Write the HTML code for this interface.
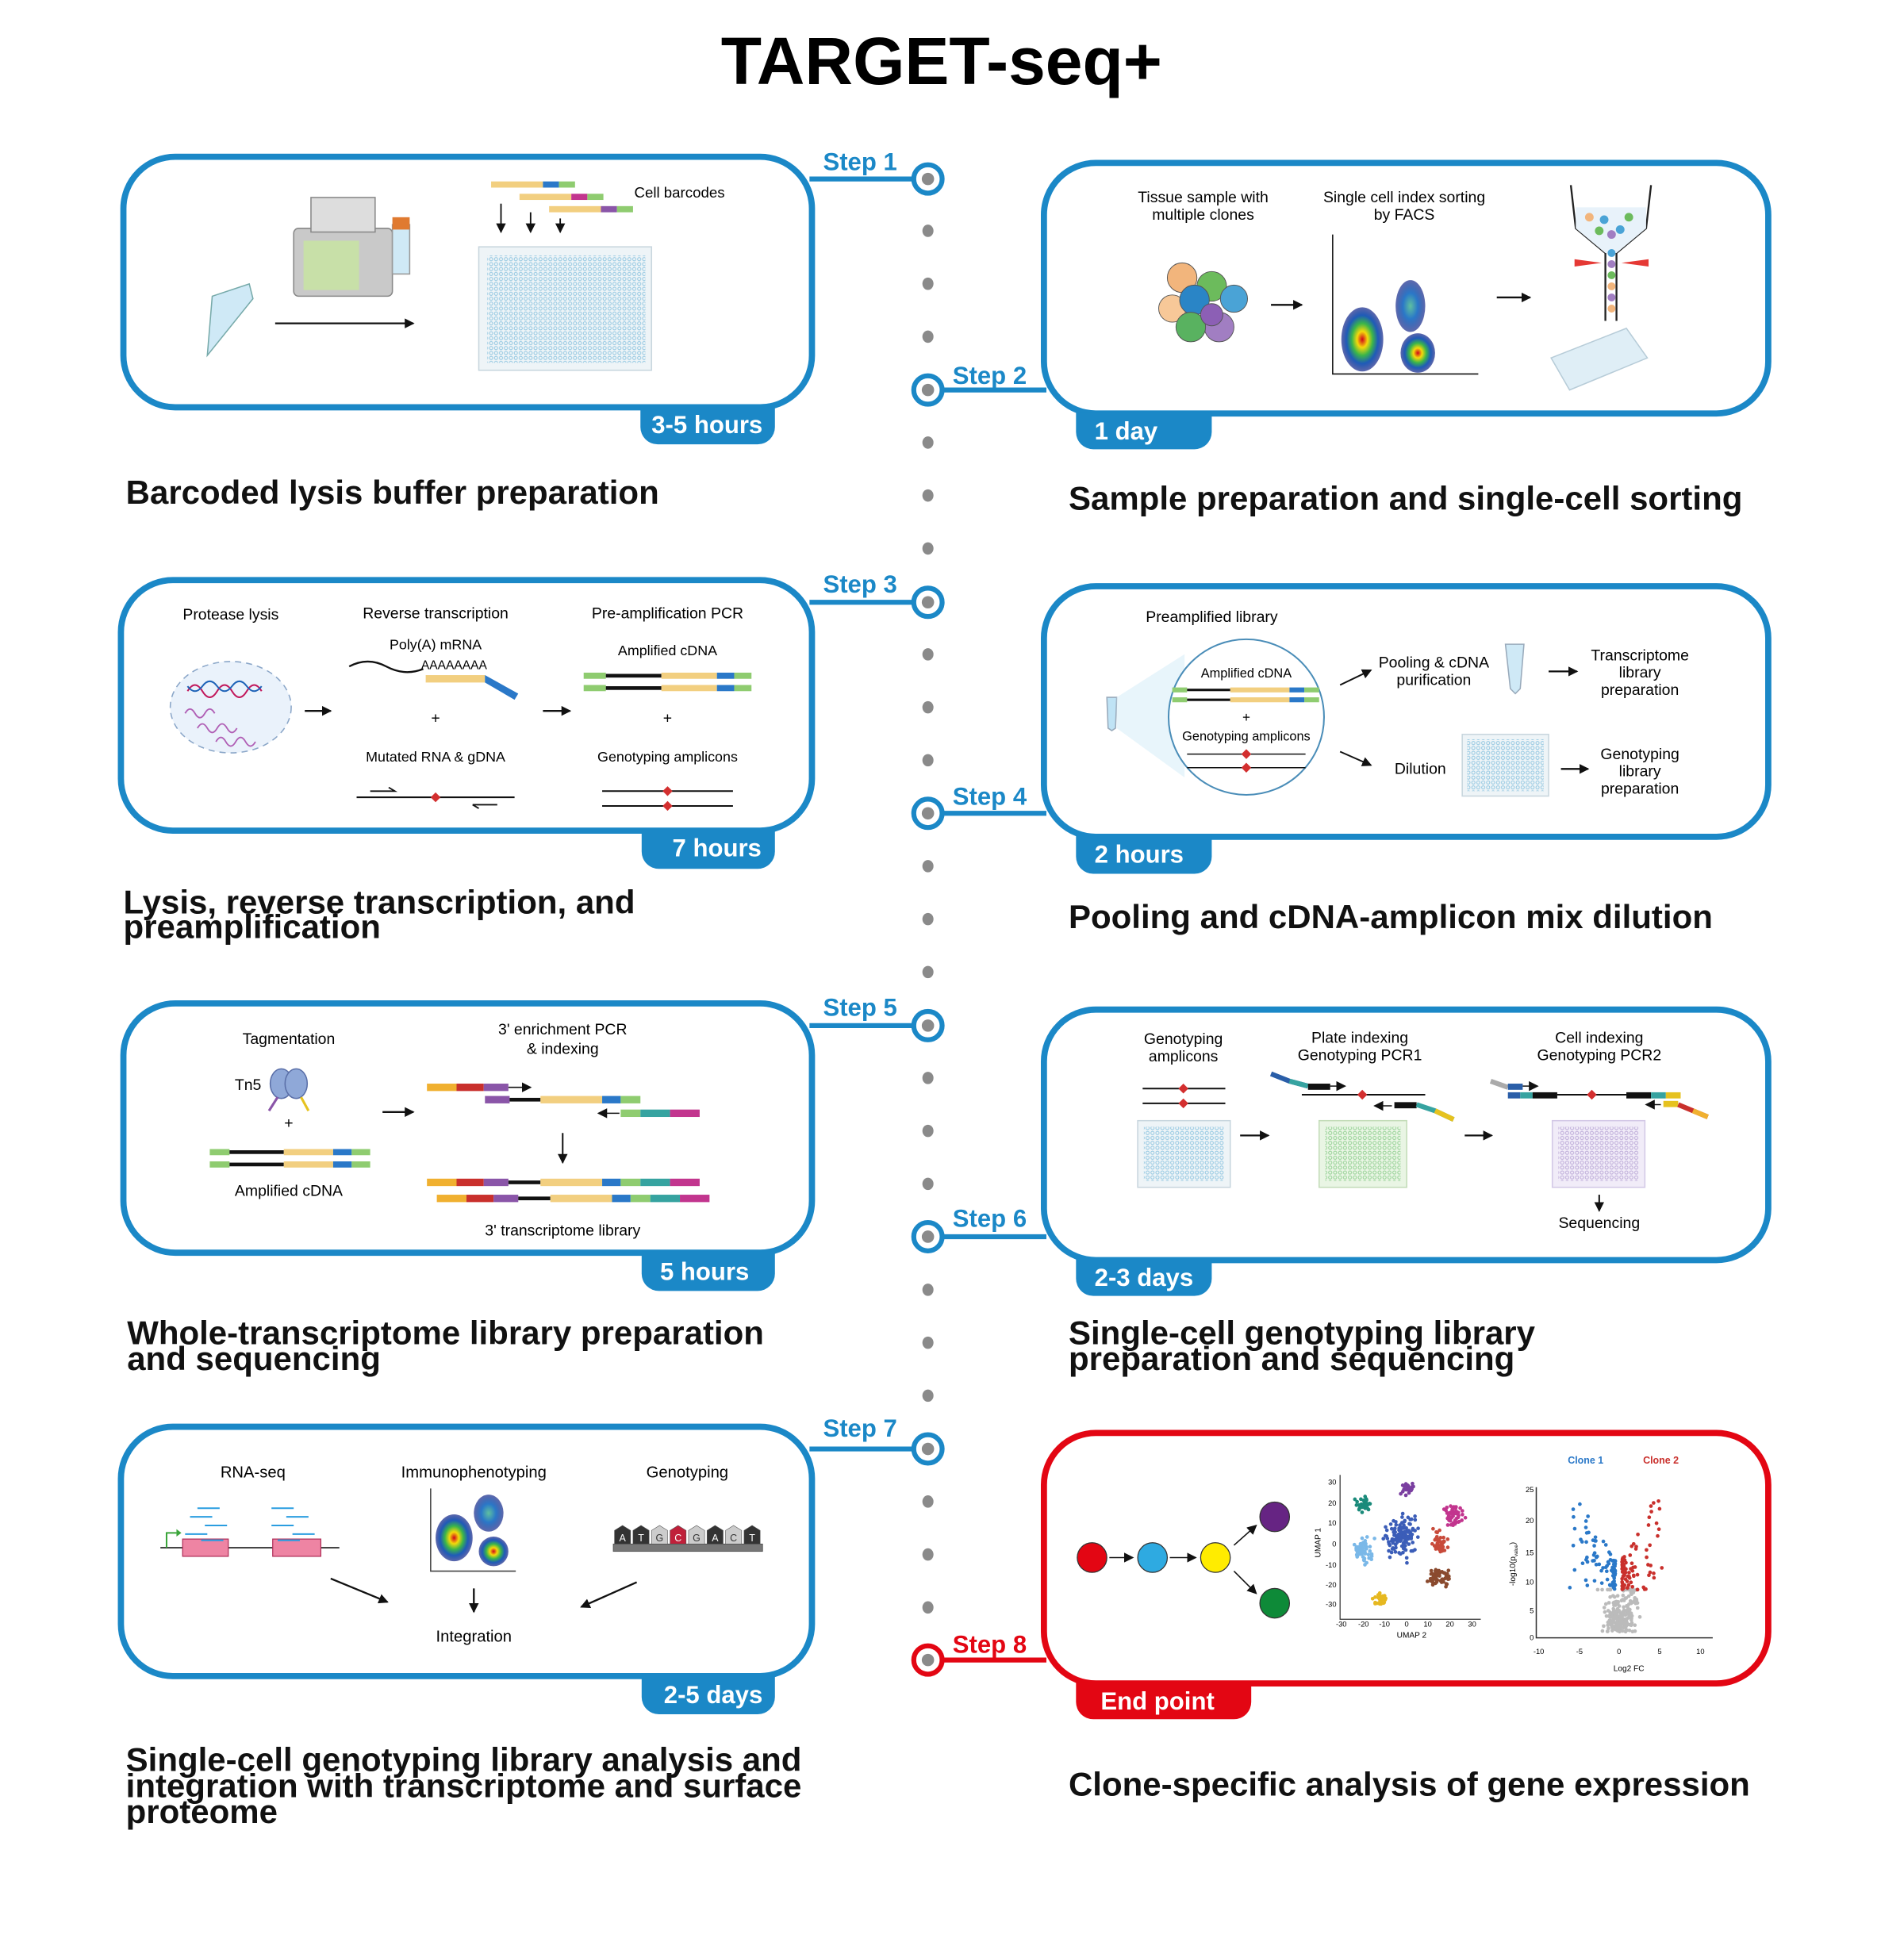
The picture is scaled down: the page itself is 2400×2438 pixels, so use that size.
<!DOCTYPE html>
<html><head><meta charset="utf-8"><style>
html,body{margin:0;padding:0;background:#fff;}
svg{display:block;}
text{font-family:"Liberation Sans",sans-serif;}
</style></head><body>
<svg id="s" width="2400" height="2438" viewBox="0 0 1543 1567" preserveAspectRatio="none" xmlns="http://www.w3.org/2000/svg">
<defs>
<marker id="ah" markerWidth="8" markerHeight="8" refX="7" refY="4" orient="auto" markerUnits="userSpaceOnUse"><path d="M0,0 L8,4 L0,8 z" fill="#111"/></marker>
<pattern id="wb" width="4" height="4" patternUnits="userSpaceOnUse"><circle cx="2" cy="2" r="1.3" fill="none" stroke="#8cc4e0" stroke-width="0.6"/></pattern>
<pattern id="wg" width="4" height="4" patternUnits="userSpaceOnUse"><circle cx="2" cy="2" r="1.3" fill="none" stroke="#8fcf8f" stroke-width="0.6"/></pattern>
<pattern id="wp" width="4" height="4" patternUnits="userSpaceOnUse"><circle cx="2" cy="2" r="1.3" fill="none" stroke="#b9a6d6" stroke-width="0.6"/></pattern>
<radialGradient id="fc"><stop offset="0" stop-color="#d0021b"/><stop offset="0.25" stop-color="#f5d90a"/><stop offset="0.5" stop-color="#3ab54a"/><stop offset="0.75" stop-color="#1e5bb8"/><stop offset="1" stop-color="#1a2a8a" stop-opacity="0.7"/></radialGradient>
<radialGradient id="fc2"><stop offset="0" stop-color="#5fc0a0"/><stop offset="0.5" stop-color="#2a78c8"/><stop offset="1" stop-color="#1a2a8a" stop-opacity="0.7"/></radialGradient>
</defs>

<text x="763" y="68" text-anchor="middle" font-size="54" font-weight="bold">TARGET-seq+</text>

<g id="dots" fill="#8a8a8a"></g>

<g fill="none" stroke="#1b88c7" stroke-width="5">
<rect x="100" y="127" width="558" height="203" rx="42"/>
<rect x="846" y="132" width="587" height="203" rx="42"/>
<rect x="98" y="470" width="560" height="203" rx="42"/>
<rect x="846" y="475" width="587" height="203" rx="42"/>
<rect x="100" y="813" width="558" height="202" rx="42"/>
<rect x="846" y="818" width="587" height="203" rx="42"/>
<rect x="98" y="1156" width="560" height="202" rx="42"/>
</g>
<rect x="846" y="1161" width="587" height="203" rx="42" fill="none" stroke="#e30613" stroke-width="5"/>

<g stroke="#1b88c7" stroke-width="4">
<line x1="656" y1="145" x2="742" y2="145"/>
<line x1="762" y1="316" x2="848" y2="316"/>
<line x1="656" y1="488" x2="742" y2="488"/>
<line x1="762" y1="659" x2="848" y2="659"/>
<line x1="656" y1="831" x2="742" y2="831"/>
<line x1="762" y1="1002" x2="848" y2="1002"/>
<line x1="656" y1="1174" x2="742" y2="1174"/>
</g>
<line x1="762" y1="1345" x2="848" y2="1345" stroke="#e30613" stroke-width="4"/>
<g id="stepc"></g>
<g font-size="20" font-weight="bold" fill="#1b88c7">
<text x="667" y="138">Step 1</text>
<text x="772" y="311">Step 2</text>
<text x="667" y="480">Step 3</text>
<text x="772" y="652">Step 4</text>
<text x="667" y="823">Step 5</text>
<text x="772" y="994">Step 6</text>
<text x="667" y="1164">Step 7</text>
</g>
<text x="772" y="1339" font-size="20" font-weight="bold" fill="#e30613">Step 8</text>

<g fill="#1b88c7">
<path d="M519,329 H628 V346 a14,14 0 0 1 -14,14 H533 a14,14 0 0 1 -14,-14z"/>
<path d="M872,334 H982 V350 a14,14 0 0 1 -14,14 H886 a14,14 0 0 1 -14,-14z"/>
<path d="M520,672 H628 V690 a14,14 0 0 1 -14,14 H534 a14,14 0 0 1 -14,-14z"/>
<path d="M872,677 H982 V694 a14,14 0 0 1 -14,14 H886 a14,14 0 0 1 -14,-14z"/>
<path d="M520,1014 H628 V1032 a14,14 0 0 1 -14,14 H534 a14,14 0 0 1 -14,-14z"/>
<path d="M872,1020 H982 V1036 a14,14 0 0 1 -14,14 H886 a14,14 0 0 1 -14,-14z"/>
<path d="M520,1357 H628 V1375 a14,14 0 0 1 -14,14 H534 a14,14 0 0 1 -14,-14z"/>
</g>
<path d="M872,1363 H1014 V1379 a14,14 0 0 1 -14,14 H886 a14,14 0 0 1 -14,-14z" fill="#e30613"/>
<g font-size="20" font-weight="bold" fill="#fff">
<text x="573" y="351" text-anchor="middle">3-5 hours</text>
<text x="887" y="356">1 day</text>
<text x="581" y="694" text-anchor="middle">7 hours</text>
<text x="887" y="699">2 hours</text>
<text x="571" y="1037" text-anchor="middle">5 hours</text>
<text x="887" y="1042">2-3 days</text>
<text x="578" y="1380" text-anchor="middle">2-5 days</text>
<text x="892" y="1385">End point</text>
</g>

<g font-size="27" font-weight="bold" fill="#111">
<text x="102" y="408">Barcoded lysis buffer preparation</text>
<text x="866" y="413">Sample preparation and single-cell sorting</text>
<text x="100" y="740">Lysis, reverse transcription, and</text>
<text x="100" y="760">preamplification</text>
<text x="866" y="752">Pooling and cDNA-amplicon mix dilution</text>
<text x="103" y="1089">Whole-transcriptome library preparation</text>
<text x="103" y="1110">and sequencing</text>
<text x="866" y="1089">Single-cell genotyping library</text>
<text x="866" y="1110">preparation and sequencing</text>
<text x="102" y="1435">Single-cell genotyping library analysis and</text>
<text x="102" y="1456">integration with transcriptome and surface</text>
<text x="102" y="1477">proteome</text>
<text x="866" y="1455">Clone-specific analysis of gene expression</text>
</g>

<!-- STEP 1 -->
<g>
<path d="M168,288 L172,240 L202,230 L205,242 z" fill="#cfe9f6" stroke="#7aa" stroke-width="1"/>
<rect x="238" y="185" width="80" height="55" rx="4" fill="#c9c9c9" stroke="#888"/>
<rect x="246" y="195" width="45" height="40" fill="#c8e0a8"/>
<rect x="252" y="160" width="52" height="28" fill="#ddd" stroke="#888"/>
<rect x="318" y="182" width="14" height="40" fill="#cfe9f6" stroke="#999"/>
<rect x="318" y="176" width="14" height="10" fill="#e07a30"/>
<line x1="223" y1="262" x2="335" y2="262" stroke="#111" stroke-width="1.5" marker-end="url(#ah)"/>
<rect x="388" y="200" width="140" height="100" fill="#eef4f7" stroke="#c8d6de"/>
<rect x="395" y="207" width="128" height="87" fill="url(#wb)"/>
<rect x="398" y="147" width="42" height="5" fill="#f2cf80"/><rect x="440" y="147" width="13" height="5" fill="#2a78c8"/><rect x="453" y="147" width="13" height="5" fill="#8fcc70"/>
<rect x="421" y="157" width="42" height="5" fill="#f2cf80"/><rect x="463" y="157" width="13" height="5" fill="#c2358e"/><rect x="476" y="157" width="13" height="5" fill="#8fcc70"/>
<rect x="445" y="167" width="42" height="5" fill="#f2cf80"/><rect x="487" y="167" width="13" height="5" fill="#8a55a8"/><rect x="500" y="167" width="13" height="5" fill="#8fcc70"/>
<text x="514" y="160" font-size="12">Cell barcodes</text>
<g stroke="#111" stroke-width="1.2"><line x1="406" y1="165" x2="406" y2="188" marker-end="url(#ah)"/><line x1="430" y1="172" x2="430" y2="188" marker-end="url(#ah)"/><line x1="454" y1="177" x2="454" y2="188" marker-end="url(#ah)"/></g>
</g>

<!-- STEP 2 -->
<g font-size="12.5" text-anchor="middle">
<text x="975" y="164">Tissue sample with</text><text x="975" y="178">multiple clones</text>
<text x="1138" y="164">Single cell index sorting</text><text x="1138" y="178">by FACS</text>
</g>
<g stroke="#555" stroke-width="0.6">
<circle cx="958" cy="225" r="12" fill="#f2b57c"/><circle cx="950" cy="250" r="11" fill="#f7c898"/>
<circle cx="982" cy="232" r="12" fill="#6cbb5c"/><circle cx="1000" cy="242" r="11" fill="#4aa3d6"/>
<circle cx="968" cy="243" r="12" fill="#2a85c6"/><circle cx="988" cy="265" r="12" fill="#a17ec2"/>
<circle cx="965" cy="265" r="12" fill="#59b260"/><circle cx="982" cy="255" r="9" fill="#8c5fb5"/>
</g>
<line x1="1030" y1="247" x2="1055" y2="247" stroke="#111" stroke-width="1.5" marker-end="url(#ah)"/>
<polyline points="1080,190 1080,303 1198,303" fill="none" stroke="#111" stroke-width="1"/>
<ellipse cx="1104" cy="275" rx="17" ry="26" fill="url(#fc)"/>
<ellipse cx="1143" cy="248" rx="12" ry="21" fill="url(#fc2)"/>
<ellipse cx="1149" cy="286" rx="14" ry="16" fill="url(#fc)"/>
<line x1="1213" y1="241" x2="1240" y2="241" stroke="#111" stroke-width="1.5" marker-end="url(#ah)"/>
<path d="M1273,150 L1277,185 L1301,205 L1301,260 M1338,150 L1334,185 L1310,205 L1310,260" fill="none" stroke="#222" stroke-width="1.5"/>
<path d="M1277,168 L1334,168 L1334,185 L1310,205 L1301,205 L1277,185z" fill="#e8f2fa"/>
<g stroke="none"><circle cx="1288" cy="176" r="3.5" fill="#f2b57c"/><circle cx="1300" cy="178" r="3.5" fill="#4aa3d6"/><circle cx="1320" cy="176" r="3.5" fill="#6cbb5c"/><circle cx="1306" cy="190" r="3.5" fill="#a17ec2"/><circle cx="1313" cy="186" r="3.5" fill="#4aa3d6"/><circle cx="1296" cy="187" r="3.5" fill="#6cbb5c"/>
<circle cx="1306" cy="205" r="3.2" fill="#4aa3d6"/><circle cx="1306" cy="214" r="3.2" fill="#a17ec2"/><circle cx="1306" cy="223" r="3.2" fill="#6cbb5c"/><circle cx="1306" cy="232" r="3.2" fill="#f2b57c"/><circle cx="1306" cy="241" r="3.2" fill="#a17ec2"/><circle cx="1306" cy="250" r="3.2" fill="#f2b57c"/></g>
<path d="M1276,210 L1298,213 L1276,216z M1336,210 L1314,213 L1336,216z" fill="#e53935"/>
<path d="M1257,290 L1318,266 L1335,290 L1272,316z" fill="#dfeef6" stroke="#b7ccd8"/>

<!-- STEP 3 -->
<g font-size="12.5" text-anchor="middle">
<text x="187" y="502">Protease lysis</text><text x="353" y="501">Reverse transcription</text><text x="541" y="501">Pre-amplification PCR</text>
<text x="353" y="526" font-size="11.5">Poly(A) mRNA</text><text x="368" y="542" font-size="10">AAAAAAAA</text>
<text x="541" y="531" font-size="11.5">Amplified cDNA</text>
<text x="353" y="586">+</text><text x="541" y="586">+</text>
<text x="353" y="617" font-size="11.5">Mutated RNA &amp; gDNA</text><text x="541" y="617" font-size="11.5">Genotyping amplicons</text>
</g>
<ellipse cx="187" cy="573" rx="49" ry="37" fill="#eaf2fb" stroke="#8aa6c8" stroke-dasharray="5,4"/>
<path d="M152,560 q6,-10 12,0 t12,0 t12,0 t12,0 t12,0" fill="none" stroke="#c2185b" stroke-width="1.3"/>
<path d="M152,556 q6,8 12,0 t12,0 t12,0 t12,0 t12,0" fill="none" stroke="#1e63b8" stroke-width="1.3"/>
<path d="M150,578 q4,-7 8,0 t8,0 t8,0 M160,590 q4,-7 8,0 t8,0 t8,0 t8,0 M175,601 q4,-7 8,0 t8,0 t8,0 t8,0" fill="none" stroke="#b05fb5" stroke-width="1.2"/>
<line x1="247" y1="576" x2="268" y2="576" stroke="#111" stroke-width="1.5" marker-end="url(#ah)"/>
<line x1="440" y1="576" x2="462" y2="576" stroke="#111" stroke-width="1.5" marker-end="url(#ah)"/>
<path d="M283,540 q15,-8 30,0 t30,2" fill="none" stroke="#111" stroke-width="1.5"/>
<rect x="345" y="547" width="48" height="6" fill="#f2cf80"/>
<path d="M393,547 L420,562 L417,567 L393,553z" fill="#2a78c8"/>
<g>
<rect x="473" y="545" width="18" height="5" fill="#8fcc70"/><rect x="491" y="546" width="45" height="3" fill="#111"/><rect x="536" y="545" width="45" height="5" fill="#f2cf80"/><rect x="581" y="545" width="14" height="5" fill="#2a78c8"/><rect x="595" y="545" width="14" height="5" fill="#8fcc70"/>
<rect x="473" y="555" width="18" height="5" fill="#8fcc70"/><rect x="491" y="556" width="45" height="3" fill="#111"/><rect x="536" y="555" width="45" height="5" fill="#f2cf80"/><rect x="581" y="555" width="14" height="5" fill="#2a78c8"/><rect x="595" y="555" width="14" height="5" fill="#8fcc70"/>
</g>
<line x1="289" y1="646" x2="417" y2="646" stroke="#111" stroke-width="1.3"/>
<path d="M300,641 h20 l-5,-3 M383,652 h20 M383,652 l5,3" fill="none" stroke="#111" stroke-width="1.2"/>
<path d="M353,642 l4,4 l-4,4 l-4,-4z" fill="#d32f2f"/>
<line x1="488" y1="641" x2="594" y2="641" stroke="#111" stroke-width="1.3"/><line x1="488" y1="653" x2="594" y2="653" stroke="#111" stroke-width="1.3"/>
<path d="M541,637 l4,4 l-4,4 l-4,-4z M541,649 l4,4 l-4,4 l-4,-4z" fill="#d32f2f"/>

<!-- STEP 4 -->
<text x="982" y="504" font-size="12.5" text-anchor="middle">Preamplified library</text>
<path d="M897,565 L905,565 L904,590 L901,592 L898,590z" fill="#bfe3f5" stroke="#9ab"/>
<path d="M905,565 L960,530 L960,630 L905,590z" fill="#d8eef8" opacity="0.6"/>
<circle cx="1010" cy="581" r="63" fill="#fff" stroke="#4a8db8" stroke-width="1.3"/>
<g font-size="10.5" text-anchor="middle"><text x="1010" y="549">Amplified cDNA</text><text x="1010" y="585" font-size="11">+</text><text x="1010" y="600">Genotyping amplicons</text></g>
<g>
<rect x="950" y="557" width="12" height="4" fill="#8fcc70"/><rect x="962" y="558" width="35" height="2" fill="#111"/><rect x="997" y="557" width="48" height="4" fill="#f2cf80"/><rect x="1045" y="557" width="12" height="4" fill="#2a78c8"/><rect x="1057" y="557" width="12" height="4" fill="#8fcc70"/>
<rect x="950" y="565" width="12" height="4" fill="#8fcc70"/><rect x="962" y="566" width="35" height="2" fill="#111"/><rect x="997" y="565" width="48" height="4" fill="#f2cf80"/><rect x="1045" y="565" width="12" height="4" fill="#2a78c8"/><rect x="1057" y="565" width="12" height="4" fill="#8fcc70"/>
</g>
<line x1="962" y1="611" x2="1058" y2="611" stroke="#111"/><line x1="962" y1="622" x2="1058" y2="622" stroke="#111"/>
<path d="M1010,607 l4,4 l-4,4 l-4,-4z M1010,618 l4,4 l-4,4 l-4,-4z" fill="#d32f2f"/>
<line x1="1086" y1="555" x2="1111" y2="543" stroke="#111" stroke-width="1.3" marker-end="url(#ah)"/>
<line x1="1086" y1="609" x2="1111" y2="620" stroke="#111" stroke-width="1.3" marker-end="url(#ah)"/>
<g font-size="12.5" text-anchor="middle"><text x="1162" y="541">Pooling &amp; cDNA</text><text x="1162" y="555">purification</text><text x="1151" y="627">Dilution</text>
<text x="1329" y="535">Transcriptome</text><text x="1329" y="549">library</text><text x="1329" y="563">preparation</text>
<text x="1329" y="615">Genotyping</text><text x="1329" y="629">library</text><text x="1329" y="643">preparation</text></g>
<path d="M1220,522 L1235,522 L1232,558 L1228,562 L1224,558z" fill="#cfe9f6" stroke="#9ab"/>
<line x1="1255" y1="544" x2="1278" y2="544" stroke="#111" stroke-width="1.5" marker-end="url(#ah)"/>
<rect x="1185" y="595" width="70" height="50" fill="#eef4f7" stroke="#c8d6de"/><rect x="1189" y="599" width="62" height="42" fill="url(#wb)"/>
<line x1="1265" y1="623" x2="1287" y2="623" stroke="#111" stroke-width="1.5" marker-end="url(#ah)"/>

<!-- STEP 5 -->
<g font-size="12.5" text-anchor="middle"><text x="234" y="846">Tagmentation</text><text x="201" y="883">Tn5</text><text x="234" y="914">+</text><text x="234" y="969">Amplified cDNA</text>
<text x="456" y="838">3' enrichment PCR</text><text x="456" y="854">&amp; indexing</text><text x="456" y="1001">3' transcriptome library</text></g>
<ellipse cx="228" cy="878" rx="9" ry="12" fill="#8fa8d8" stroke="#5a6fa8"/><ellipse cx="240" cy="878" rx="9" ry="12" fill="#8fa8d8" stroke="#5a6fa8"/>
<line x1="225" y1="889" x2="218" y2="900" stroke="#8a55a8" stroke-width="2"/><line x1="244" y1="889" x2="250" y2="900" stroke="#e6c21f" stroke-width="2"/>
<g>
<rect x="170" y="931" width="16" height="5" fill="#8fcc70"/><rect x="186" y="932" width="44" height="3" fill="#111"/><rect x="230" y="931" width="40" height="5" fill="#f2cf80"/><rect x="270" y="931" width="15" height="5" fill="#2a78c8"/><rect x="285" y="931" width="15" height="5" fill="#8fcc70"/>
<rect x="170" y="941" width="16" height="5" fill="#8fcc70"/><rect x="186" y="942" width="44" height="3" fill="#111"/><rect x="230" y="941" width="40" height="5" fill="#f2cf80"/><rect x="270" y="941" width="15" height="5" fill="#2a78c8"/><rect x="285" y="941" width="15" height="5" fill="#8fcc70"/>
</g>
<line x1="310" y1="901" x2="335" y2="901" stroke="#111" stroke-width="1.5" marker-end="url(#ah)"/>
<g>
<rect x="346" y="878" width="24" height="6" fill="#f0b030"/><rect x="370" y="878" width="22" height="6" fill="#c9302c"/><rect x="392" y="878" width="20" height="6" fill="#8a55a8"/>
<line x1="412" y1="881" x2="430" y2="881" stroke="#111" marker-end="url(#ah)"/>
<rect x="393" y="888" width="20" height="6" fill="#8a55a8"/><rect x="413" y="889.5" width="25" height="3" fill="#111"/><rect x="438" y="888" width="50" height="6" fill="#f2cf80"/><rect x="488" y="888" width="15" height="6" fill="#2a78c8"/><rect x="503" y="888" width="16" height="6" fill="#8fcc70"/>
<line x1="502" y1="902" x2="485" y2="902" stroke="#111" marker-end="url(#ah)"/>
<rect x="503" y="899" width="16" height="6" fill="#8fcc70"/><rect x="519" y="899" width="24" height="6" fill="#36a3a0"/><rect x="543" y="899" width="24" height="6" fill="#c2358e"/>
</g>
<line x1="456" y1="918" x2="456" y2="942" stroke="#111" stroke-width="1.3" marker-end="url(#ah)"/>
<g>
<rect x="346" y="955" width="24" height="6" fill="#f0b030"/><rect x="370" y="955" width="22" height="6" fill="#c9302c"/><rect x="392" y="955" width="20" height="6" fill="#8a55a8"/><rect x="412" y="956.5" width="26" height="3" fill="#111"/><rect x="438" y="955" width="50" height="6" fill="#f2cf80"/><rect x="488" y="955" width="15" height="6" fill="#2a78c8"/><rect x="503" y="955" width="16" height="6" fill="#8fcc70"/><rect x="519" y="955" width="24" height="6" fill="#36a3a0"/><rect x="543" y="955" width="24" height="6" fill="#c2358e"/>
<rect x="354" y="968" width="24" height="6" fill="#f0b030"/><rect x="378" y="968" width="22" height="6" fill="#c9302c"/><rect x="400" y="968" width="20" height="6" fill="#8a55a8"/><rect x="420" y="969.5" width="26" height="3" fill="#111"/><rect x="446" y="968" width="50" height="6" fill="#f2cf80"/><rect x="496" y="968" width="15" height="6" fill="#2a78c8"/><rect x="511" y="968" width="16" height="6" fill="#8fcc70"/><rect x="527" y="968" width="24" height="6" fill="#36a3a0"/><rect x="551" y="968" width="24" height="6" fill="#c2358e"/>
</g>

<!-- STEP 6 -->
<g font-size="12.5" text-anchor="middle"><text x="959" y="846">Genotyping</text><text x="959" y="860">amplicons</text>
<text x="1102" y="845">Plate indexing</text><text x="1102" y="859">Genotyping PCR1</text>
<text x="1296" y="845">Cell indexing</text><text x="1296" y="859">Genotyping PCR2</text><text x="1296" y="995">Sequencing</text></g>
<line x1="926" y1="882" x2="993" y2="882" stroke="#111" stroke-width="1.3"/><line x1="926" y1="894" x2="993" y2="894" stroke="#111" stroke-width="1.3"/>
<path d="M959,878 l4,4 l-4,4 l-4,-4z M959,890 l4,4 l-4,4 l-4,-4z" fill="#d32f2f"/>
<rect x="922" y="908" width="75" height="54" fill="#eef4f7" stroke="#c8d6de"/><rect x="927" y="913" width="65" height="44" fill="url(#wb)"/>
<rect x="1069" y="908" width="71" height="54" fill="#e9f5e4" stroke="#c3dcb8"/><rect x="1074" y="913" width="61" height="44" fill="url(#wg)"/>
<rect x="1258" y="908" width="75" height="54" fill="#f1ecf8" stroke="#d3c8e6"/><rect x="1263" y="913" width="65" height="44" fill="url(#wp)"/>
<line x1="1005" y1="920" x2="1028" y2="920" stroke="#111" stroke-width="1.5" marker-end="url(#ah)"/>
<line x1="1187" y1="920" x2="1209" y2="920" stroke="#111" stroke-width="1.5" marker-end="url(#ah)"/>
<line x1="1296" y1="968" x2="1296" y2="981" stroke="#111" stroke-width="1.3" marker-end="url(#ah)"/>
<path d="M1030,870 L1045,876 L1060,880" fill="none" stroke="#2a5ea8" stroke-width="4"/><path d="M1045,876 L1060,880" stroke="#36a3a0" stroke-width="4"/>
<rect x="1060" y="878" width="18" height="5" fill="#111"/><line x1="1078" y1="880" x2="1090" y2="880" stroke="#111" marker-end="url(#ah)"/>
<line x1="1055" y1="887" x2="1155" y2="887" stroke="#111" stroke-width="1.3"/><path d="M1104,883 l4,4 l-4,4 l-4,-4z" fill="#d32f2f"/>
<line x1="1128" y1="896" x2="1114" y2="896" stroke="#111" marker-end="url(#ah)"/>
<rect x="1130" y="893" width="18" height="5" fill="#111"/><path d="M1148,895 L1163,900 L1178,907" fill="none" stroke="#36a3a0" stroke-width="4"/><path d="M1163,900 L1178,907" stroke="#e6c21f" stroke-width="4"/>
<path d="M1208,876 L1222,881" stroke="#aaa" stroke-width="4"/><rect x="1222" y="878" width="12" height="5" fill="#2a5ea8"/><line x1="1234" y1="880" x2="1246" y2="880" stroke="#111" marker-end="url(#ah)"/>
<rect x="1222" y="885" width="10" height="5" fill="#2a5ea8"/><rect x="1232" y="885" width="10" height="5" fill="#36a3a0"/><rect x="1242" y="885" width="20" height="5" fill="#111"/>
<line x1="1262" y1="887" x2="1318" y2="887" stroke="#111" stroke-width="1.3"/><path d="M1290,883 l4,4 l-4,4 l-4,-4z" fill="#d32f2f"/>
<rect x="1318" y="885" width="20" height="5" fill="#111"/><rect x="1338" y="885" width="12" height="5" fill="#36a3a0"/><rect x="1350" y="885" width="12" height="5" fill="#e6c21f"/>
<line x1="1346" y1="895" x2="1334" y2="895" stroke="#111" marker-end="url(#ah)"/><rect x="1348" y="892" width="12" height="5" fill="#e6c21f"/>
<path d="M1360,895 L1372,900 L1384,905" fill="none" stroke="#c9302c" stroke-width="4"/><path d="M1372,900 L1384,905" stroke="#f0b030" stroke-width="4"/>

<!-- STEP 7 -->
<g font-size="13" text-anchor="middle"><text x="205" y="1197">RNA-seq</text><text x="384" y="1197">Immunophenotyping</text><text x="557" y="1197">Genotyping</text><text x="384" y="1330">Integration</text></g>
<line x1="130" y1="1254" x2="275" y2="1254" stroke="#333" stroke-width="1.2"/>
<rect x="148" y="1247" width="37" height="14" fill="#ee84a3" stroke="#b0305a" stroke-width="0.8"/><rect x="221" y="1247" width="39" height="14" fill="#ee84a3" stroke="#b0305a" stroke-width="0.8"/>
<path d="M135,1254 V1242 H143" fill="none" stroke="#3aa53a" stroke-width="1.3"/><path d="M143,1239 l4,3 l-4,3z" fill="#3aa53a"/>
<g stroke="#2a9de0" stroke-width="1.3">
<line x1="160" y1="1222" x2="178" y2="1222"/><line x1="154" y1="1229" x2="172" y2="1229"/><line x1="166" y1="1236" x2="184" y2="1236"/><line x1="150" y1="1243" x2="168" y2="1243"/><line x1="163" y1="1248" x2="181" y2="1248"/>
<line x1="220" y1="1222" x2="238" y2="1222"/><line x1="232" y1="1229" x2="250" y2="1229"/><line x1="220" y1="1236" x2="238" y2="1236"/><line x1="237" y1="1243" x2="255" y2="1243"/><line x1="225" y1="1248" x2="243" y2="1248"/>
</g>
<polyline points="349,1206 349,1273 418,1273" fill="none" stroke="#444" stroke-width="1"/>
<ellipse cx="368" cy="1246" rx="15" ry="19" fill="url(#fc)"/><ellipse cx="396" cy="1226" rx="12" ry="15" fill="url(#fc2)"/><ellipse cx="400" cy="1257" rx="12" ry="12" fill="url(#fc)"/>
<rect x="497" y="1251" width="121" height="6" fill="#777" stroke="#444" stroke-width="0.5"/>
<g id="seq"></g>
<line x1="268" y1="1279" x2="314" y2="1298" stroke="#111" stroke-width="1.5" marker-end="url(#ah)"/>
<line x1="384" y1="1287" x2="384" y2="1306" stroke="#111" stroke-width="1.5" marker-end="url(#ah)"/>
<line x1="516" y1="1282" x2="471" y2="1302" stroke="#111" stroke-width="1.5" marker-end="url(#ah)"/>

<!-- STEP 8 -->
<g stroke="#333" stroke-width="0.8">
<circle cx="885" cy="1262" r="12" fill="#e30613"/><circle cx="934" cy="1262" r="12" fill="#2eaae1"/><circle cx="985" cy="1262" r="12" fill="#ffec00"/>
<circle cx="1033" cy="1229" r="12" fill="#662483"/><circle cx="1033" cy="1299" r="12" fill="#0e8a38"/>
</g>
<g stroke="#111" stroke-width="1"><line x1="899" y1="1262" x2="918" y2="1262" marker-end="url(#ah)"/><line x1="948" y1="1262" x2="969" y2="1262" marker-end="url(#ah)"/><line x1="1000" y1="1252" x2="1018" y2="1236" marker-end="url(#ah)"/><line x1="1000" y1="1273" x2="1018" y2="1291" marker-end="url(#ah)"/></g>
<polyline points="1086,1195 1086,1312 1200,1312" fill="none" stroke="#333" stroke-width="0.8"/>
<g font-size="6" text-anchor="end"><text x="1083" y="1203">30</text><text x="1083" y="1220">20</text><text x="1083" y="1236">10</text><text x="1083" y="1253">0</text><text x="1083" y="1270">-10</text><text x="1083" y="1286">-20</text><text x="1083" y="1302">-30</text></g>
<g font-size="6" text-anchor="middle"><text x="1087" y="1318">-30</text><text x="1105" y="1318">-20</text><text x="1122" y="1318">-10</text><text x="1140" y="1318">0</text><text x="1157" y="1318">10</text><text x="1175" y="1318">20</text><text x="1193" y="1318">30</text><text x="1144" y="1327" font-size="6.5">UMAP 2</text></g>
<text transform="translate(1070,1262) rotate(-90)" font-size="6.5">UMAP 1</text>
<polyline points="1245,1205 1245,1327 1388,1327" fill="none" stroke="#333" stroke-width="1"/>
<g font-size="6" text-anchor="end"><text x="1243" y="1209">25</text><text x="1243" y="1234">20</text><text x="1243" y="1260">15</text><text x="1243" y="1284">10</text><text x="1243" y="1307">5</text><text x="1243" y="1329">0</text></g>
<g font-size="6" text-anchor="middle"><text x="1247" y="1340">-10</text><text x="1280" y="1340">-5</text><text x="1312" y="1340">0</text><text x="1345" y="1340">5</text><text x="1378" y="1340">10</text><text x="1320" y="1354" font-size="6.5">Log2 FC</text></g>
<text transform="translate(1228,1285) rotate(-90)" font-size="6.5">-log10(p<tspan font-size="4" dy="2">value</tspan><tspan dy="-2">)</tspan></text>
<text x="1285" y="1186" font-size="8" font-weight="bold" fill="#2a78c8" text-anchor="middle">Clone 1</text>
<text x="1346" y="1186" font-size="8" font-weight="bold" fill="#c9302c" text-anchor="middle">Clone 2</text>
<g id="sc"></g>
</svg>
<script>
(function(){
var NS="http://www.w3.org/2000/svg";
function el(p,t,a){var e=document.createElementNS(NS,t);for(var k in a)e.setAttribute(k,a[k]);p.appendChild(e);return e;}
var d=document.getElementById('dots');
for(var y=187;y<1330;y+=42.9){var near=false;[145,316,488,659,831,1002,1174,1345].forEach(function(s){if(Math.abs(s-y)<15)near=true;});if(!near)el(d,'ellipse',{cx:752,cy:y,rx:4.5,ry:5});}
var sc=document.getElementById('stepc');
[145,316,488,659,831,1002,1174,1345].forEach(function(y,i){var c=i==7?'#e30613':'#1b88c7';el(sc,'circle',{cx:752,cy:y,r:11.5,fill:'#fff',stroke:c,'stroke-width':4});el(sc,'circle',{cx:752,cy:y,r:5,fill:'#8a8a8a'});});
var sq=document.getElementById('seq');var L="ATGCGACT",cols=['#333','#333','#ccc','#c0203a','#ccc','#333','#ccc','#333'];
for(var i=0;i<8;i++){var x=498+i*15;el(sq,'path',{d:'M'+x+','+(1251)+' V1240 l6.5,-4 l6.5,4 V1251z',fill:cols[i],stroke:'#555','stroke-width':0.4});var t=el(sq,'text',{x:x+6.5,y:1249,'font-size':8,'text-anchor':'middle',fill:cols[i]=='#ccc'?'#333':'#fff'});t.textContent=L[i];}
var s=12345;function r(){s=(s*16807)%2147483647;return s/2147483647;}
function g(){return (r()+r()+r()-1.5)/1.5;}
var g2=document.getElementById('sc');
var cl=[[1104,1220,9,8,'#1a8a7a',40],[1141,1206,8,7,'#7a3fa0',25],[1178,1228,11,12,'#c2358e',55],[1105,1255,11,15,'#7ab8e8',60],[1135,1245,17,26,'#3b5db8',130],[1167,1250,8,14,'#c84a3a',40],[1166,1278,15,10,'#8a4a2e',50],[1118,1296,8,8,'#e6b820',35]];
cl.forEach(function(c){for(var i=0;i<c[5];i++)el(g2,'circle',{cx:c[0]+g()*c[2],cy:c[1]+g()*c[3],r:1.5,fill:c[4]});});
for(var i=0;i<200;i++){var x=g()*22;var y=1322-Math.abs(g())*35*(1+Math.abs(x)/15);el(g2,'circle',{cx:1312+x,cy:Math.max(1288,y),r:1.5,fill:'#bbb'});}
for(var i=0;i<170;i++){var a=r();var x=-3-Math.pow(r(),2)*38;var y=1288-r()*(20+Math.abs(x)*1.6);el(g2,'circle',{cx:1312+(a<0.5?x:-x*0.85),cy:y,r:1.5,fill:a<0.5?'#2a78c8':'#c9302c'});}
})();
</script>
</body></html>
